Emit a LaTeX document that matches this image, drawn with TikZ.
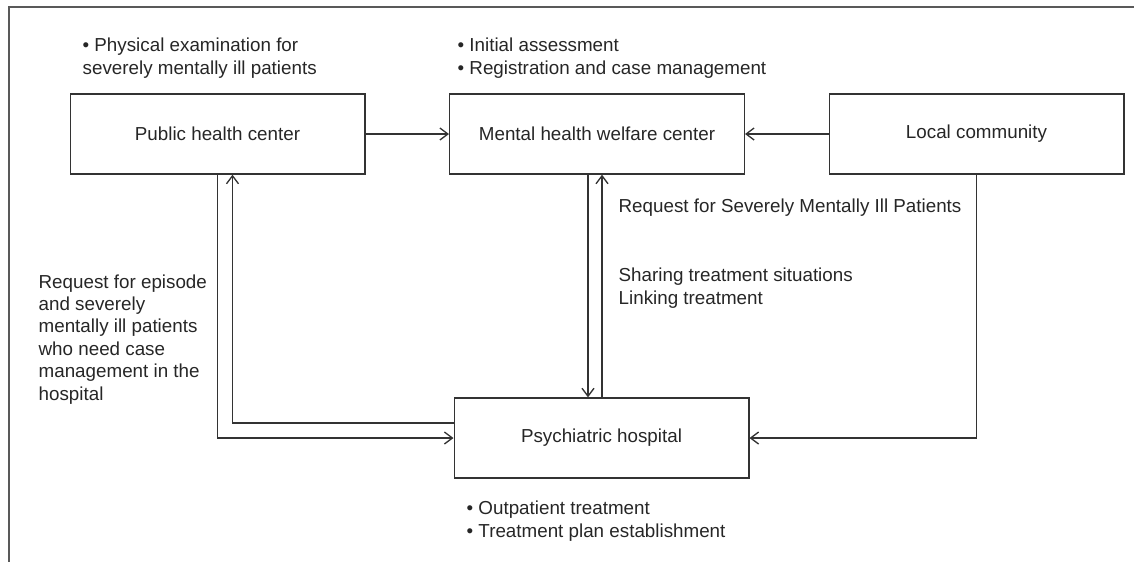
\documentclass[tikz,border=0pt]{standalone}
\usepackage{fontspec}
\setmainfont{Liberation Sans}
\usetikzlibrary{arrows.meta,positioning,calc}

\begin{document}
\begin{tikzpicture}[x=0.75pt, y=-0.75pt, >={Straight Barb[length=6pt,width=9pt]},
  font=\fontsize{14.1}{16.8}\selectfont, line width=1pt, color=black!80, text=black!85,
  box/.style={draw, minimum width=221pt, minimum height=60pt, inner sep=0pt},
  note/.style={anchor=base west, align=left, inner sep=0pt}]
  \useasboundingbox (0,0) rectangle (1134,562);
  % frame: top and left edges only
  \draw[black!65] (1134,7) -- (9,7) -- (9,562);
  % the four services
  \node[box] (phc) at (217.5,134) {Public health center};
  \node[box] (mhwc) at (597,134) {Mental health welfare center};
  \node[box] (lc) at (976.5,134) {Local community};
  \node[box] (ph) at (601.5,438) {Psychiatric hospital};
  % roles of each service (anchored at the last baseline)
  \node[note] (phcrole) at (82,74) {\textbullet{} Physical examination for\\severely mentally ill patients};
  \node[note] (mhwcrole) at (457,74) {\textbullet{} Initial assessment\\\textbullet{} Registration and case management};
  \node[note] (phrole) at (466,537) {\textbullet{} Outpatient treatment\\\textbullet{} Treatment plan establishment};
  % flows into the welfare center
  \draw[->] (phc) -- (mhwc);
  \draw[->] (lc) -- (mhwc);
  % welfare center <-> hospital
  \draw[->] ([xshift=-6.75pt]mhwc.south) -- ([xshift=-6.75pt]mhwc.south |- ph.north);
  \draw[->] ([xshift=3.75pt]mhwc.south |- ph.north) -- ([xshift=3.75pt]mhwc.south);
  \node[note] (smireq) at (618,212) {Request for Severely Mentally Ill Patients};
  \node[note] (sharing) at (618,304) {Sharing treatment situations\\Linking treatment};
  % public health center <-> hospital
  \draw[->] (phc.south) |- (ph.west);
  \draw[->] ([yshift=11.25pt]ph.west) -| ([xshift=11.25pt]phc.south);
  \node[note] (episode) at (38,400) {Request for episode\\and severely\\mentally ill patients\\who need case\\management in the\\hospital};
  % community -> hospital
  \draw[->] (lc.south) |- (ph.east);
\end{tikzpicture}
\end{document}
